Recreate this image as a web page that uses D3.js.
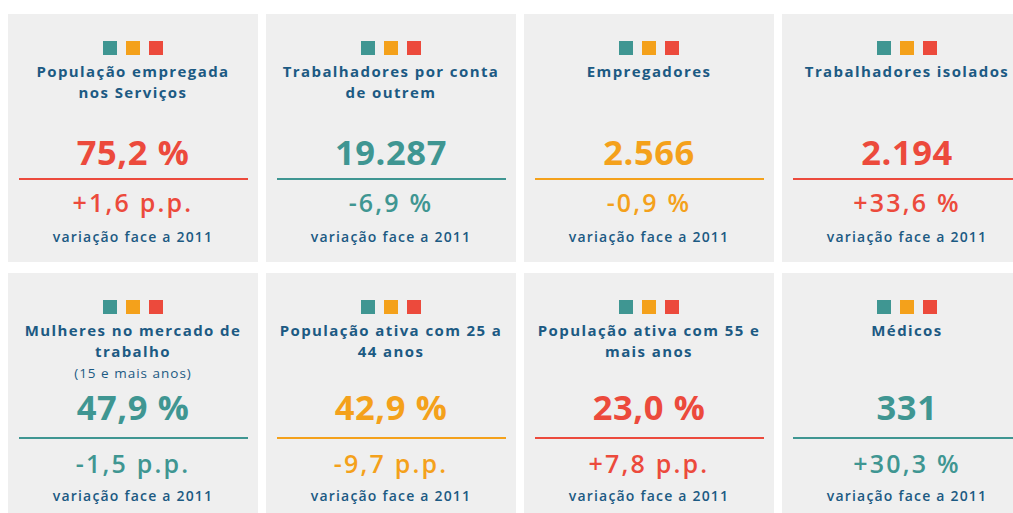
<!DOCTYPE html>
<html>
<head>
<meta charset="utf-8">
<script src="https://cdn.jsdelivr.net/npm/d3@7"></script>
<style>
  html, body { margin: 0; padding: 0; background: #fff; }
  svg { display: block; font-family: 'Open Sans', sans-serif; }
</style>
</head>
<body>
<div id="chart"></div>
<script>
// indicator cards, 2 rows x 4 columns
const titles = [
  ['População empregada', 'nos Serviços'],
  ['Trabalhadores por conta', 'de outrem'],
  ['Empregadores'],
  ['Trabalhadores isolados'],
  ['Mulheres no mercado de', 'trabalho'],
  ['População ativa com 25 a', '44 anos'],
  ['População ativa com 55 e', 'mais anos'],
  ['Médicos']
];
const subtitles = ['', '', '', '', '(15 e mais anos)', '', '', ''];
const values = [75.2, 19287, 2566, 2194, 47.9, 42.9, 23.0, 331];
const valueUnits = ['%', '', '', '', '%', '%', '%', ''];
const changes = [1.6, -6.9, -0.9, 33.6, -1.5, -9.7, 7.8, 30.3];
const changeUnits = ['p.p.', '%', '%', '%', 'p.p.', 'p.p.', 'p.p.', '%'];
const tones = ['red', 'teal', 'orange', 'red', 'teal', 'orange', 'red', 'teal'];
const footer = 'variação face a 2011';

const width = 1013, height = 513;
const cardW = 250, gap = 8;

const pt = d3.formatLocale({decimal: ',', thousands: '.', grouping: [3], currency: ['€', '']});
const fmtNum = (v, unit) => unit ? pt.format('.1f')(v) + ' ' + unit : pt.format(',d')(v);
const fmtChg = (v, unit) => (v > 0 ? '+' : '') + pt.format('.1f')(v).replace('−', '-') + ' ' + unit;

const color = d3.scaleOrdinal()
  .domain(['teal', 'orange', 'red'])
  .range(['#3f9692', '#f4a11b', '#ec4a3c']);
const titleColor = '#1c5a83';

const x = d3.scaleBand().domain(d3.range(4))
  .range([gap, gap + 4 * (cardW + gap) - gap]).paddingInner(gap / (cardW + gap));
const y = d3.scaleBand().domain(d3.range(2))
  .range([14, 14 + 259 + 248]).paddingInner(11 / 259);

const svg = d3.select('#chart').append('svg')
  .attr('width', width).attr('height', height);

const data = titles.map((t, i) => ({
  title: t, sub: subtitles[i], value: values[i], vu: valueUnits[i],
  change: changes[i], cu: changeUnits[i], tone: tones[i],
  col: i % 4, row: Math.floor(i / 4)
}));

const card = svg.selectAll('g.card').data(data).enter().append('g')
  .attr('class', 'card')
  .attr('transform', d => `translate(${x(d.col)},${y(d.row)})`);

card.append('rect')
  .attr('width', x.bandwidth()).attr('height', y.bandwidth())
  .attr('fill', '#efefef');

const cx = x.bandwidth() / 2;

// the three little squares
const sq = d3.scalePoint().domain(color.domain()).range([cx - 23, cx + 23]);
card.selectAll('rect.sq').data(color.domain()).enter().append('rect')
  .attr('class', 'sq')
  .attr('x', d => sq(d) - 7).attr('y', 27)
  .attr('width', 14).attr('height', 14)
  .attr('fill', d => color(d));

card.each(function(d) {
  const g = d3.select(this);
  const t = g.append('text')
    .attr('text-anchor', 'middle')
    .attr('fill', titleColor)
    .style('font-size', '15px').style('font-weight', 700)
    .style('letter-spacing', '1.4px');
  d.title.forEach((line, j) => {
    t.append('tspan').attr('x', cx).attr('y', 63 + j * 21).text(line);
  });
  if (d.sub) {
    g.append('text').attr('x', cx).attr('y', 105)
      .attr('text-anchor', 'middle').attr('fill', titleColor)
      .style('font-size', '13.5px').style('letter-spacing', '1px')
      .text(d.sub);
  }
});

const vy = d => d.row === 0 ? 151 : 147;
card.append('text')
  .attr('x', cx).attr('y', vy)
  .attr('text-anchor', 'middle')
  .attr('fill', d => color(d.tone))
  .style('font-size', '34.5px').style('font-weight', 700)
  .style('letter-spacing', '0.6px')
  .text(d => fmtNum(d.value, d.vu));

card.append('line')
  .attr('x1', 11).attr('x2', x.bandwidth() - 10)
  .attr('y1', 165).attr('y2', 165)
  .attr('stroke', d => color(d.tone)).attr('stroke-width', 2);

card.append('text')
  .attr('x', cx).attr('y', d => d.row === 0 ? 198 : 200)
  .attr('text-anchor', 'middle')
  .attr('fill', d => color(d.tone))
  .style('font-size', '25px').style('font-weight', 600)
  .style('letter-spacing', '2.2px')
  .text(d => fmtChg(d.change, d.cu));

card.append('text')
  .attr('x', cx).attr('y', 228)
  .attr('text-anchor', 'middle')
  .attr('fill', titleColor)
  .style('font-size', '14px').style('font-weight', 600)
  .style('letter-spacing', '1.2px')
  .text(footer);
</script>
</body>
</html>
